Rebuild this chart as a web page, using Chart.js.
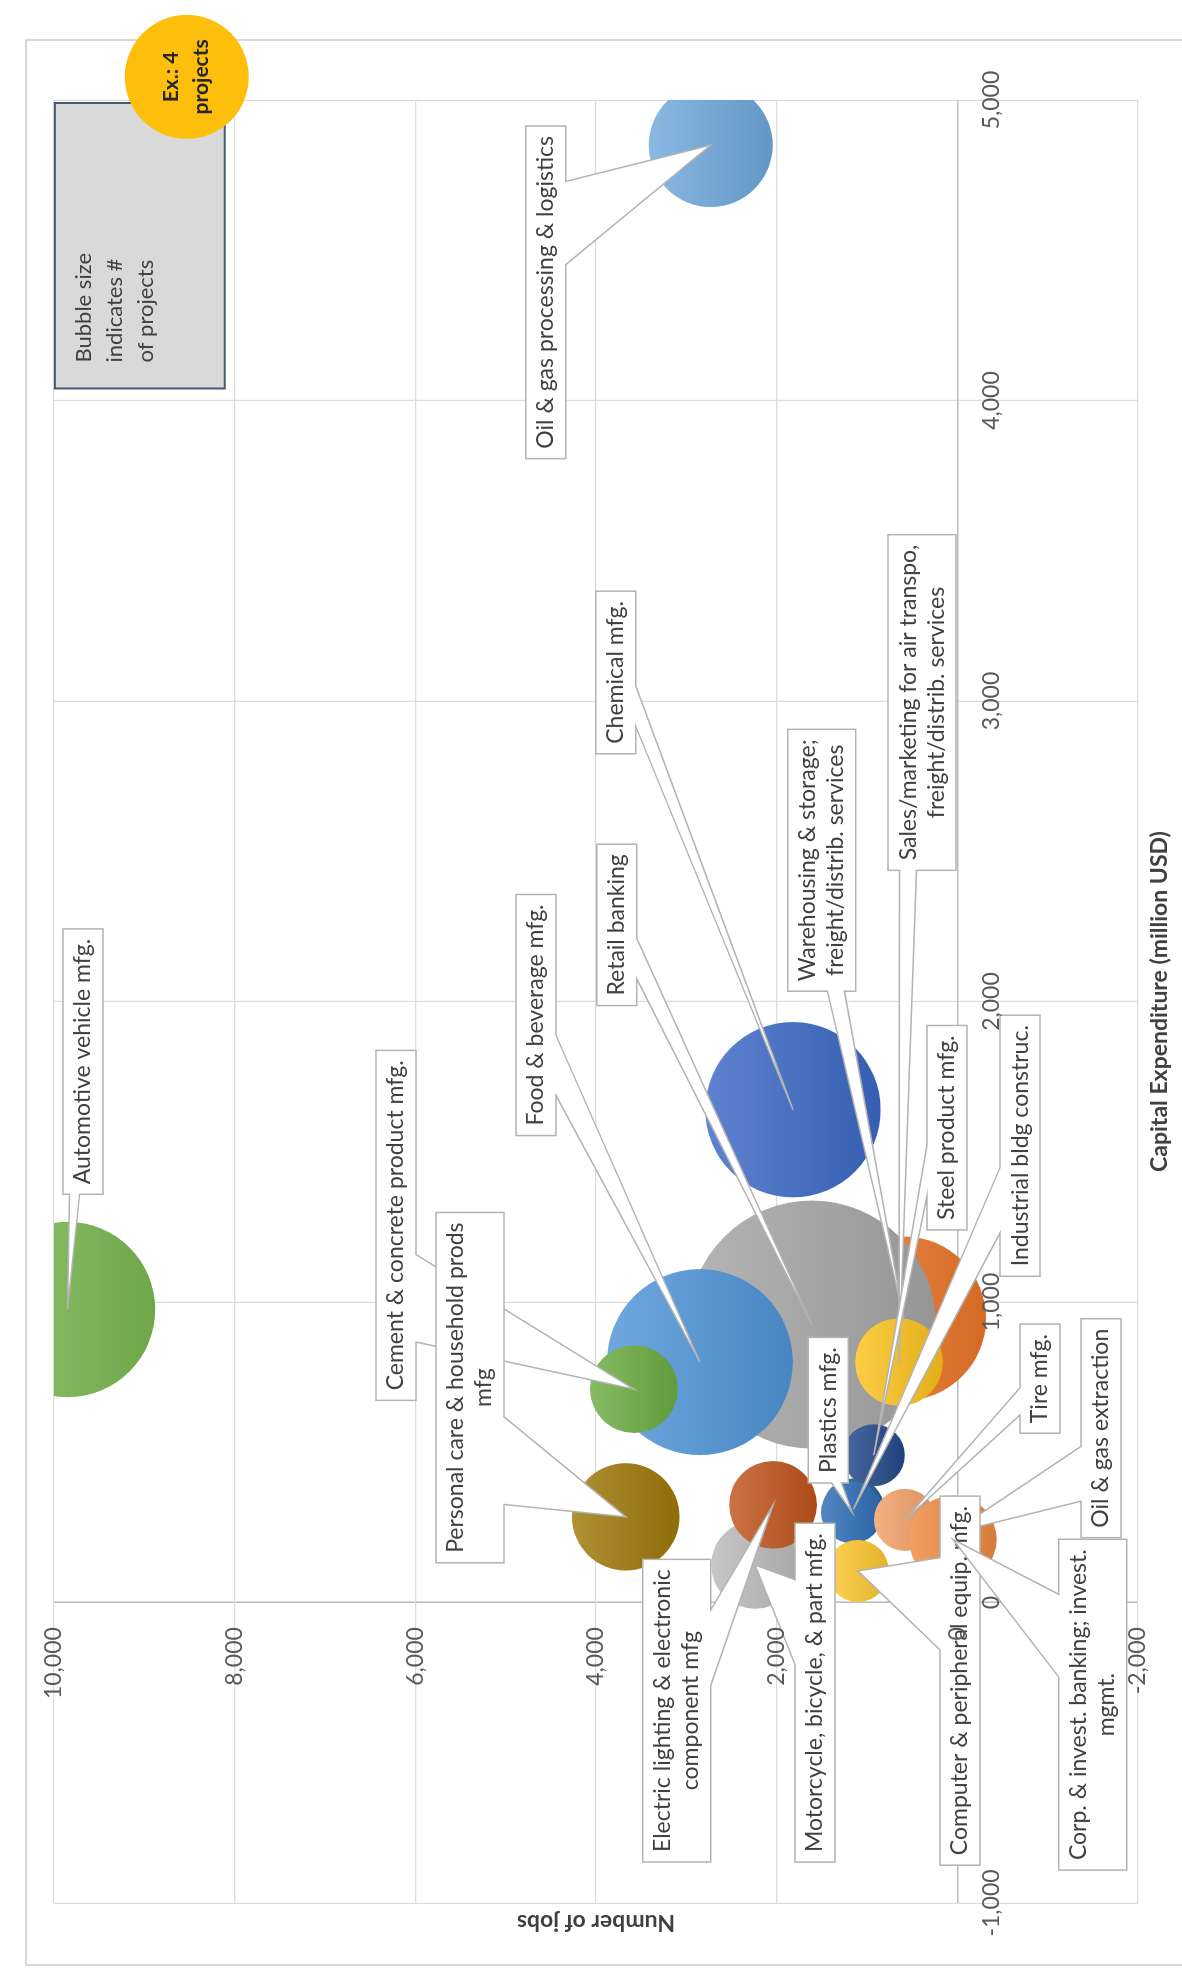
<!DOCTYPE html>
<html lang="en">
<head>
<meta charset="UTF-8">
<title>Jobs vs capital expenditure by sector</title>
<style>
  html, body { margin: 0; padding: 0; background: #fff; }
  body { width: 1182px; height: 1968px; overflow: hidden; position: relative; }
  /* the chart is drawn landscape and turned a quarter to the left, like the scan */
  #wrap {
    position: absolute; left: 0; top: 0; width: 1968px; height: 1182px;
    transform-origin: 0 0;
    transform: translate(0px, 1968px) rotate(-90deg);
  }
</style>
</head>
<body>
<div id="wrap"><canvas id="bubbleChart" width="1968" height="1182"></canvas></div>
<script src="https://cdn.jsdelivr.net/npm/chart.js"></script>
<script>
// ---- data, in drawing order: first = bottom ----
const sectors = [
  'Oil & gas extraction',
  'Industrial bldg construc.',
  'Warehousing & storage;\nfreight/distrib. services',
  'Retail banking',
  'Chemical mfg.',
  'Food & beverage mfg.',
  'Cement & concrete product mfg.',
  'Sales/marketing for air transpo,\nfreight/distrib. services',
  'Automotive vehicle mfg.',
  'Oil & gas processing & logistics',
  'Personal care & household prods\nmfg',
  'Motorcycle, bicycle, & part mfg.',
  'Electric lighting & electronic\ncomponent mfg',
  'Steel product mfg.',
  'Plastics mfg.',
  'Computer & peripheral equip. mfg.',
  'Tire mfg.',
  'Corp. & invest. banking; invest.\nmgmt.'
];
const capex    = [230, 310, 945, 925, 1640, 800, 710, 800, 975, 4850, 285, 125, 325, 490, 300, 105, 275, 210];
const jobs     = [70, 1150, 590, 1610, 1820, 2850, 3580, 645, 9850, 2730, 3670, 2240, 2040, 925, 1165, 1100, 580, 50];
const projects = [1, 1, 7, 16, 8, 9, 2, 2, 8, 4, 3, 2, 2, 1, 1, 1, 1, 2];

const capexTicks = [-1000, 0, 1000, 2000, 3000, 4000, 5000];
const jobsTicks  = [-2000, 0, 2000, 4000, 6000, 8000, 10000];
const exampleProjects = 4;

// ---- styles / layout ----
const sectorColors = [
  '#7f7f7f', '#255e91', '#ec7628', '#a5a5a5', '#3b68c6', '#4f95d8',
  '#6cac42', '#fbc21c', '#7ab851', '#6fa8dc', '#9e7808', '#bbbbbb',
  '#c0531c', '#23488a', '#2d6db5', '#fcc72e', '#f2a066', '#ee8a40'
];
// centre of each callout box, as [jobs, capex]
const calloutAt = [
  [-1590, 580], [-695, 1520], [1500, 2470], [3770, 2255], [3780, 3095], [4665, 1955],
  [6215, 1255], [390, 2995], [9680, 1800], [4555, 4360], [5395, 715], [1575, -300],
  [3105, -360], [115, 1580], [1430, 640], [-30, -260], [-915, 745], [-1500, -340]
];
const FONT = 'Lato, "Open Sans", sans-serif';
const R_ONE = 31;          // bubble radius (px) for one project
const LABEL_SIZE = 23, LINE_H = 28, PAD_X = 10, PAD_Y = 6;

function bubbleR(n) { return R_ONE * Math.sqrt(n); }

function mix(hex, f, to) {
  const n = parseInt(hex.slice(1), 16);
  const c = [n >> 16, (n >> 8) & 255, n & 255].map(v => Math.round(v + (to - v) * f));
  return 'rgb(' + c.join(',') + ')';
}

// rectangle with a wedge pointing at (tx,ty), same geometry as the office wedgeRectCallout
function calloutPath(ctx, l, t, w, h, tx, ty) {
  const r = l + w, b = t + h;
  const dx = tx - (l + w / 2), dy = ty - (t + h / 2);
  const dz = Math.abs(dy) - Math.abs(dx * h / w);
  const inside = tx > l && tx < r && ty > t && ty < b;
  const x1 = l + w * (dx > 0 ? 7 : 2) / 12, x2 = l + w * (dx > 0 ? 10 : 5) / 12;
  const y1 = t + h * (dy > 0 ? 7 : 2) / 12, y2 = t + h * (dy > 0 ? 10 : 5) / 12;
  ctx.beginPath();
  ctx.moveTo(l, t);
  if (!inside && dz > 0 && dy < 0) { ctx.lineTo(x1, t); ctx.lineTo(tx, ty); ctx.lineTo(x2, t); }
  ctx.lineTo(r, t);
  if (!inside && dz <= 0 && dx > 0) { ctx.lineTo(r, y1); ctx.lineTo(tx, ty); ctx.lineTo(r, y2); }
  ctx.lineTo(r, b);
  if (!inside && dz > 0 && dy > 0) { ctx.lineTo(x2, b); ctx.lineTo(tx, ty); ctx.lineTo(x1, b); }
  ctx.lineTo(l, b);
  if (!inside && dz <= 0 && dx < 0) { ctx.lineTo(l, y2); ctx.lineTo(tx, ty); ctx.lineTo(l, y1); }
  ctx.closePath();
}

const framePlugin = {
  id: 'frame',
  beforeDraw(chart) {
    const ctx = chart.ctx;
    ctx.save();
    ctx.fillStyle = '#fff';
    ctx.fillRect(0, 0, chart.width, chart.height);
    ctx.strokeStyle = '#d9d9d9';
    ctx.lineWidth = 2;
    ctx.strokeRect(3, 26, 1925, 1200);
    ctx.restore();
  }
};

const calloutPlugin = {
  id: 'callouts',
  afterDatasetsDraw(chart) {
    const {ctx, scales: {x, y}} = chart;
    ctx.save();
    ctx.font = LABEL_SIZE + 'px ' + FONT;
    ctx.textAlign = 'center';
    ctx.textBaseline = 'middle';
    sectors.forEach((name, i) => {
      const lines = name.split('\n');
      const w = Math.max(...lines.map(s => ctx.measureText(s).width)) + 2 * PAD_X;
      const h = lines.length * LINE_H + 2 * PAD_Y;
      const cx = x.getPixelForValue(calloutAt[i][1]);
      const cy = y.getPixelForValue(calloutAt[i][0]);
      calloutPath(ctx, cx - w / 2, cy - h / 2, w, h,
        x.getPixelForValue(capex[i]), y.getPixelForValue(jobs[i]));
      ctx.fillStyle = '#fff';
      ctx.fill();
      ctx.strokeStyle = '#b3b3b3';
      ctx.lineWidth = 1.5;
      ctx.stroke();
      ctx.fillStyle = '#404040';
      lines.forEach((s, k) => ctx.fillText(s, cx, cy - h / 2 + PAD_Y + LINE_H * (k + 0.5)));
    });
    ctx.restore();
  }
};

const extrasPlugin = {
  id: 'extras',
  afterDraw(chart) {
    const {ctx, chartArea: a, scales: {x, y}} = chart;
    ctx.save();
    // axis titles
    ctx.fillStyle = '#404040';
    ctx.font = 'bold 23px ' + FONT;
    ctx.textAlign = 'center';
    ctx.textBaseline = 'middle';
    ctx.fillText('Capital Expenditure (million USD)', (a.left + a.right) / 2, 1160);
    ctx.translate(46, (a.top + a.bottom) / 2);
    ctx.rotate(-Math.PI / 2);
    ctx.fillText('Number of jobs', 0, 0);
    ctx.setTransform(1, 0, 0, 1, 0, 0);

    // note box
    const l = x.getPixelForValue(4040), r = x.getPixelForValue(4990);
    const t = y.getPixelForValue(9990), b = y.getPixelForValue(8110);
    ctx.fillStyle = '#d9d9d9';
    ctx.fillRect(l, t, r - l, b - t);
    ctx.strokeStyle = '#4a5878';
    ctx.lineWidth = 2;
    ctx.strokeRect(l, t, r - l, b - t);
    ctx.fillStyle = '#404040';
    ctx.font = '22px ' + FONT;
    ctx.textAlign = 'left';
    ['Bubble size', 'indicates #', 'of projects'].forEach((s, k) =>
      ctx.fillText(s, l + 26, t + 29 + k * 31));

    // example bubble
    const ex = x.getPixelForValue(5077), ey = y.getPixelForValue(8530);
    ctx.beginPath();
    ctx.arc(ex, ey, bubbleR(exampleProjects), 0, Math.PI * 2);
    ctx.fillStyle = '#fdbf0c';
    ctx.fill();
    ctx.fillStyle = '#262626';
    ctx.font = 'bold 21px ' + FONT;
    ctx.textAlign = 'center';
    ctx.fillText('Ex.: ' + exampleProjects, ex, ey - 16);
    ctx.fillText('projects', ex, ey + 14);
    ctx.restore();
  }
};

function axisGrid(zeroColor) {
  return {
    color: c => c.tick && c.tick.value === 0 ? zeroColor : '#dcdcdc',
    lineWidth: c => c.tick && c.tick.value === 0 ? 1.6 : 1.2,
    drawTicks: false
  };
}

function build() {
  Chart.defaults.font.family = FONT;
  const ctx = document.getElementById('bubbleChart').getContext('2d');
  new Chart(ctx, {
    type: 'bubble',
    data: {
      datasets: [{
        label: 'Sectors',
        data: sectors.map((s, i) => ({x: capex[i], y: jobs[i]})),
        radius: c => bubbleR(projects[c.dataIndex]),
        backgroundColor: c => {
          const i = c.dataIndex;
          const col = sectorColors[i];
          if (!c.chart.chartArea) return col;
          const py = c.chart.scales.y.getPixelForValue(jobs[i]);
          const r = bubbleR(projects[i]);
          const g = c.chart.ctx.createLinearGradient(0, py - r, 0, py + r);
          g.addColorStop(0, mix(col, 0.18, 255));
          g.addColorStop(1, mix(col, 0.1, 0));
          return g;
        },
        borderWidth: 0
      }]
    },
    options: {
      responsive: false,
      animation: false,
      events: [],
      layout: { autoPadding: false, padding: { left: 65, right: 100, top: 54, bottom: 44 } },
      plugins: { legend: { display: false }, tooltip: { enabled: false } },
      scales: {
        x: {
          type: 'linear',
          min: -1000, max: 5000,
          position: { y: 0 },
          afterFit: s => { s.height = 0; },
          afterBuildTicks: s => { s.ticks = capexTicks.map(v => ({value: v})); },
          grid: axisGrid('#bcbcbc'),
          border: { display: false },
          ticks: {
            z: 1, padding: 20, maxRotation: 0, autoSkip: false,
            color: '#595959', font: { size: 23 },
            callback: v => v.toLocaleString('en-US')
          }
        },
        y: {
          type: 'linear',
          min: -2000, max: 10000,
          position: { x: -82 },
          afterFit: s => { s.width = 0; },
          afterBuildTicks: s => { s.ticks = jobsTicks.map(v => ({value: v})); },
          grid: axisGrid('#bcbcbc'),
          border: { display: false },
          ticks: {
            z: 1, autoSkip: false,
            color: '#595959', font: { size: 23 },
            callback: v => v.toLocaleString('en-US')
          }
        }
      }
    },
    plugins: [framePlugin, calloutPlugin, extrasPlugin]
  });
}

Promise.all([
  document.fonts.load('23px Lato'),
  document.fonts.load('bold 23px Lato')
]).then(build, build);
</script>
</body>
</html>
